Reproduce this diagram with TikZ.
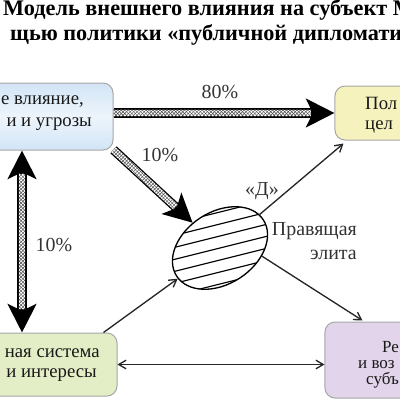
\documentclass[tikz,border=0pt]{standalone}
\usepackage{fontspec}
\setmainfont{Liberation Serif}
\usetikzlibrary{arrows.meta, calc, patterns, shapes.geometric}

\definecolor{inflBlue}{HTML}{D2E5F6}
\definecolor{goalYellow}{HTML}{F5F2BE}
\definecolor{sysGreen}{HTML}{E4EEC6}
\definecolor{subjViolet}{HTML}{E2D4EB}

% hatched shaft of a fat arrow: start, tip, back-off at start, back-off at tip
\newcommand{\hatchshaft}[4]{%
  \coordinate (hs1) at ($(#1)!#3!(#2)$);
  \coordinate (hs2) at ($(#2)!#4!(#1)$);
  \path[pattern=crosshatch, pattern color=black!70, preaction={fill=white}]
    ($(hs1)!1mm!90:(hs2)$) -- ($(hs2)!1mm!-90:(hs1)$) --
    ($(hs2)!1mm!90:(hs1)$) -- ($(hs1)!1mm!-90:(hs2)$) -- cycle;
}

\begin{document}
\begin{tikzpicture}[x=0.3mm, y=-0.3mm,
  box/.style={rectangle, rounded corners=3mm, draw=black!35, line width=0.3mm, inner sep=0pt},
  boxtext/.style={inner sep=0pt, font=\fontsize{16}{19}\selectfont, text=black!90},
  pct/.style={inner sep=0pt, font=\fontsize{17}{20}\selectfont, text=black!80},
  title/.style={inner sep=0pt, font=\bfseries\fontsize{19}{22}\selectfont},
  fatTip/.tip={Stealth[length=8.5mm, width=8.5mm, inset=2mm]},
  thinTip/.tip={Straight Barb[length=2.2mm, width=2.6mm]},
  fatArrow/.style={line width=2.8mm, -{fatTip}},
  fatBoth/.style={line width=2.8mm, {fatTip}-{fatTip}},
  thinArrow/.style={line width=0.4mm, black!85, -{thinTip}},
  thinBoth/.style={line width=0.4mm, black!85, {thinTip}-{thinTip}},
  elite/.style={ellipse, draw, fill=white, line width=0.4mm, minimum width=31mm,
    minimum height=21.6mm, inner sep=0pt, rotate=33}
  ]

  \useasboundingbox (0,0) rectangle (400,400);
  \clip (0,0) rectangle (400,400);

  % title
  \node[title, anchor=base west] (title1) at (3,15.5) {Модель внешнего влияния на субъект М};
  \node[title, anchor=base west] (title2) at (10,40) {щью политики «публичной дипломати};

  % boxes
  \node[box, top color=inflBlue, bottom color=inflBlue, middle color=inflBlue!40,
    minimum width=54.6mm, minimum height=20.1mm] (inflbox) at (22,116.5) {};
  \node[box, fill=goalYellow, minimum width=37.5mm, minimum height=16.2mm] (goalbox) at (397.5,113) {};
  \node[box, fill=sysGreen, minimum width=58.2mm, minimum height=18.9mm] (sysbox) at (20,364.5) {};
  \node[box, fill=subjViolet, minimum width=43.5mm, minimum height=22.8mm] (subjbox) at (397.5,360) {};

  \node[boxtext, anchor=base east] (infl1) at (84,104) {е влияние,};
  \node[boxtext, anchor=base east] (infl2) at (92,126) {и и угрозы};
  \node[boxtext, anchor=base west] (goal1) at (365,109) {Пол};
  \node[boxtext, anchor=base west] (goal2) at (365,129) {цел};
  \node[boxtext, anchor=base east] (sys1) at (100,357) {ная система};
  \node[boxtext, anchor=base east] (sys2) at (97,377) {и интересы};
  \node[boxtext, align=left, anchor=west, font=\fontsize{14.5}{13.6}\selectfont] (subjtxt) at (358,365)
    {\hspace{7.2mm}Ре\\и воз\\\hspace{2.4mm}субъ};

  % ruling elite
  \node[elite] (elite) at (220,248) {};
  \begin{scope}
    \clip[rotate around={33:(220,248)}] (220,248) ellipse [x radius=51.7, y radius=36];
    \foreach \k in {-4,...,4}
      \draw[line width=0.35mm] ($(elite.center)+(-70,17.5+\k*12)$) -- ++(140,-35);
  \end{scope}

  % fat hatched arrows
  \coordinate (s80) at (inflbox.east |- goalbox.west);
  \draw[fatArrow] (s80) -- (goalbox.west);
  \hatchshaft{s80}{goalbox.west}{0pt}{7mm}

  \draw[fatArrow] (inflbox.-20) -- (elite) coordinate[pos=0] (d1) coordinate[pos=1] (d2);
  \hatchshaft{d1}{d2}{0pt}{7mm}

  \coordinate (v1) at (inflbox.south);
  \coordinate (v2) at (inflbox.south |- sysbox.north);
  \draw[fatBoth] (v1) -- (v2);
  \hatchshaft{v1}{v2}{7mm}{7mm}

  % thin arrows
  \draw[thinArrow] (elite) -- ($(goalbox.south west)+(9,3)$);
  \draw[thinArrow] (elite.-44) -- ($(subjbox.north west)+(38,-1)$);
  \draw[thinArrow] ($(sysbox.north east)+(-14,0)$) -- (elite);
  \draw[thinBoth] (sysbox.east) -- (sysbox.east -| subjbox.west);

  % labels
  \node[pct] (p80) at (220,92) {80\%};
  \node[pct] (p10a) at (160,155) {10\%};
  \node[pct] (p10b) at (54,245) {10\%};
  \node[pct] (dlbl) at (262,191) {«Д»};
  \node[pct, align=right, anchor=east] (elitelbl) at (357,241) {Правящая\\элита};
\end{tikzpicture}
\end{document}
